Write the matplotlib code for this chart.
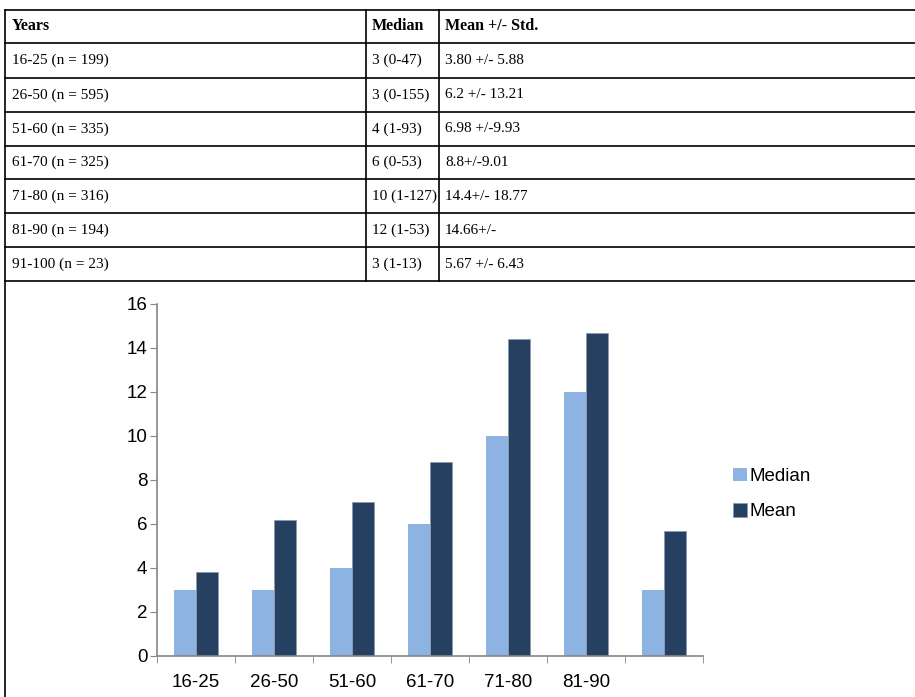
import matplotlib.pyplot as plt
from matplotlib.lines import Line2D
import numpy as np

# Age groups and summary values
age_groups = ['16-25', '26-50', '51-60', '61-70', '71-80', '81-90', '91-100']
n_counts = [199, 595, 335, 325, 316, 194, 23]
median_vals = [3, 3, 4, 6, 10, 12, 3]
median_ranges = ['0-47', '0-155', '1-93', '0-53', '1-127', '1-53', '1-13']
mean_strs = ['3.80', '6.2', '6.98', '8.8', '14.4', '14.66', '5.67']
std_strs = [' +/- 5.88', ' +/- 13.21', ' +/-9.93', '+/-9.01', '+/- 18.77', '+/-', ' +/- 6.43']
tick_labels = ['16-25', '26-50', '51-60', '61-70', '71-80', '81-90', '']

mean_vals = [float(s) for s in mean_strs]

W, H = 915, 697
fig = plt.figure(figsize=(W / 100, H / 100), dpi=100)


def fx(px):
    return px / W


def fy(py):
    return 1 - py / H


def hline(py, x0=5, x1=W):
    fig.add_artist(Line2D([fx(x0), fx(x1)], [fy(py), fy(py)], color='black', lw=1.2))


def vline(px, y0, y1):
    fig.add_artist(Line2D([fx(px), fx(px)], [fy(y0), fy(y1)], color='black', lw=1.2))


# --- table on top ---
row_lines = [10, 43, 78, 112, 146, 179, 213, 247, 281]
for y in row_lines:
    hline(y)
vline(5, 10, H)
vline(366, 10, 281)
vline(439, 10, 281)

serif = 'Liberation Serif'
tsize = 11
header_y = (row_lines[0] + row_lines[1]) / 2
fig.text(fx(12), fy(header_y), 'Years', family=serif, weight='bold', size=tsize + 0.5, va='center')
fig.text(fx(372), fy(header_y), 'Median', family=serif, weight='bold', size=tsize + 0.5, va='center')
fig.text(fx(445), fy(header_y), 'Mean +/- Std.', family=serif, weight='bold', size=tsize + 0.5, va='center')

for i in range(len(age_groups)):
    cy = (row_lines[i + 1] + row_lines[i + 2]) / 2
    fig.text(fx(12), fy(cy), f'{age_groups[i]} (n = {n_counts[i]})', family=serif, size=tsize, va='center')
    fig.text(fx(372), fy(cy), f'{median_vals[i]} ({median_ranges[i]})', family=serif, size=tsize, va='center')
    fig.text(fx(445), fy(cy), mean_strs[i] + std_strs[i], family=serif, size=tsize, va='center')

# --- bar chart ---
ax = fig.add_axes([fx(157), fy(656), (703 - 157) / W, (656 - 304) / H])
x = np.arange(len(age_groups))
w = 0.282
ax.bar(x - w / 2, median_vals, w, color='#8db3e2', label='Median')
ax.bar(x + w / 2, mean_vals, w, color='#254061', edgecolor='#8a9ab0', linewidth=0.6, label='Mean')

ax.set_xlim(-0.5, len(age_groups) - 0.5)
ax.set_ylim(0, 16)
ax.set_yticks(range(0, 17, 2))
ax.set_xticks(x)
ax.set_xticklabels(tick_labels)
ax.set_xticks(np.arange(-0.5, len(age_groups), 1), minor=True)

ax.tick_params(axis='x', which='major', length=0, pad=13, labelsize=13.5)
ax.tick_params(axis='x', which='minor', length=5, color='#868686', direction='out')
ax.tick_params(axis='y', length=5, color='#868686', labelsize=13.5, pad=2)

for side in ['top', 'right']:
    ax.spines[side].set_visible(False)
for side in ['left', 'bottom']:
    ax.spines[side].set_color('#868686')
    ax.spines[side].set_linewidth(1.2)

for lbl in ax.get_xticklabels() + ax.get_yticklabels():
    lbl.set_family('Liberation Sans')

fig.legend(loc='center left', bbox_to_anchor=(fx(716), fy(494)), frameon=False,
           prop={'family': 'Liberation Sans', 'size': 13.5}, handlelength=0.75,
           handleheight=0.75, handletextpad=0.15, labelspacing=0.95)

fig.savefig('out.png', dpi=100)
